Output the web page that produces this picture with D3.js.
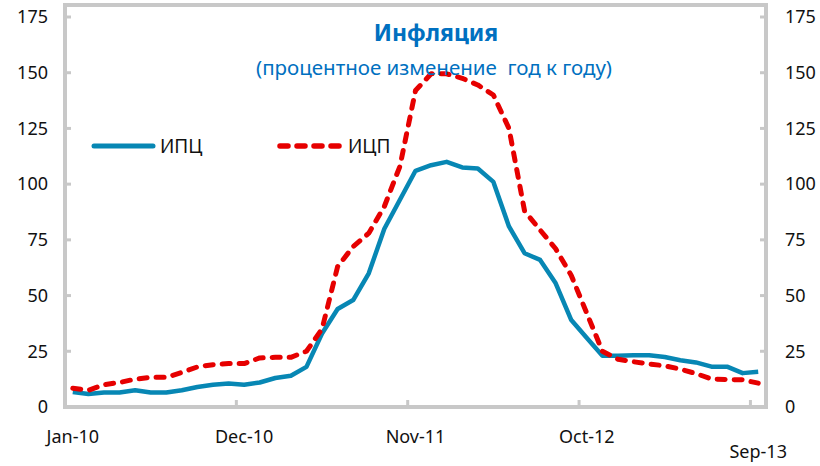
<!DOCTYPE html>
<html>
<head>
<meta charset="utf-8">
<script src="https://cdn.jsdelivr.net/npm/d3@7"></script>
<style>
  body { margin: 0; background: #fff; }
  text { font-family: "Noto Sans", sans-serif; }
</style>
</head>
<body>
<svg id="graf" width="820" height="466"></svg>
<script>
// data - mesicni hodnoty Jan-10 .. Sep-13
var mesice = []
var mesNazvy = ["Jan","Feb","Mar","Apr","May","Jun","Jul","Aug","Sep","Oct","Nov","Dec"]
for (var r = 10; r <= 13; r++) {
  for (var m = 0; m < 12; m++) {
    if (r == 13 && m > 8) break
    mesice.push(mesNazvy[m] + "-" + r)
  }
}
var popisky = ["Jan-10", "Dec-10", "Nov-11", "Oct-12", "Sep-13"]
var ipc = [6.7, 5.8, 6.5, 6.5, 7.5, 6.5, 6.5, 7.5, 9, 10, 10.5, 10, 11, 13, 14, 18,
  33, 44, 48, 60, 80, 93, 106, 108.5, 110, 107.5, 107, 101, 81, 69, 66, 55.5,
  39, 31, 23, 23, 23.2, 23.2, 22.4, 21, 20, 18.1, 18.1, 15.2, 15.8]
var icp = [8.4, 7.5, 10, 11, 12.5, 13.3, 13.3, 15.5, 18, 19, 19.5, 19.5, 22, 22.3, 22.3, 25,
  35, 63, 72, 78, 90, 108, 142, 149.5, 149.5, 147.5, 144.5, 140, 125, 88, 79.4, 71,
  59, 42, 25, 21.4, 20.3, 19.3, 18.5, 17, 15, 12.6, 12.3, 12.2, 10.7]
var osaY = [0, 25, 50, 75, 100, 125, 150, 175]

var svg = d3.select("#graf")
var L = 65, R = 766, T = 5, B = 407

var x = d3.scaleBand().domain(mesice).range([L, R])
var y = d3.scaleLinear().domain([0, 175]).range([B, 17])
var stred = function(d){ return x(d) + x.bandwidth() / 2 }

var seda = "#c8c8c8"

// ramecek
svg.append("rect").attr("x", L).attr("y", T).attr("width", R - L).attr("height", B - T)
  .attr("fill", "none").attr("stroke", seda).attr("stroke-width", 4)

// y znacky dovnitr
osaY.forEach(function(v){
  svg.append("line").attr("x1", L).attr("x2", L + 6).attr("y1", y(v)).attr("y2", y(v))
    .attr("stroke", seda).attr("stroke-width", 3)
  svg.append("line").attr("x1", R).attr("x2", R - 6).attr("y1", y(v)).attr("y2", y(v))
    .attr("stroke", seda).attr("stroke-width", 3)
})

// leva a prava osa - popisky
var levaOsa = d3.axisLeft(y).tickValues(osaY).tickSize(0).tickPadding(17)
var pravaOsa = d3.axisRight(y).tickValues(osaY).tickSize(0).tickPadding(19)
var gL = svg.append("g").attr("transform", "translate(" + L + ",0)").call(levaOsa)
var gR = svg.append("g").attr("transform", "translate(" + R + ",0)").call(pravaOsa)
;[gL, gR].forEach(function(g){
  g.select(".domain").remove()
  g.selectAll("text").attr("font-size", 18).attr("fill", "#111").attr("font-family", "Noto Sans")
})

// x znacky (mezi kategoriemi, kazdych 11)
var hranice = [0, 11, 22, 33, 44]
hranice.forEach(function(k){
  var xx = x(mesice[k])
  svg.append("line").attr("x1", xx).attr("x2", xx).attr("y1", B).attr("y2", B - 7)
    .attr("stroke", seda).attr("stroke-width", 3)
})

// x popisky
svg.selectAll("text.xlab").data(popisky).enter().append("text")
  .attr("class", "xlab")
  .attr("x", function(d){ return stred(d) })
  .attr("y", function(d, i){ return i == 4 ? 458 : 443 })
  .attr("text-anchor", "middle").attr("font-size", 18).attr("fill", "#111")
  .text(function(d){ return d })

// cary
var cara = function(data) {
  return d3.line().x(function(d, i){ return stred(mesice[i]) }).y(function(d){ return y(d) })(data)
}
svg.append("path").attr("d", cara(ipc)).attr("fill", "none")
  .attr("stroke", "#0787b4").attr("stroke-width", 4.5).attr("stroke-linejoin", "round")
svg.append("path").attr("d", cara(icp)).attr("fill", "none")
  .attr("stroke", "#e60000").attr("stroke-width", 5).attr("stroke-dasharray", "8,9")
  .attr("stroke-linecap", "round").attr("stroke-linejoin", "round")

// nadpis
svg.append("text").attr("x", 436).attr("y", 41).attr("text-anchor", "middle")
  .attr("font-size", 23).attr("font-weight", "bold").attr("fill", "#0070c0").text("Инфляция")
svg.append("text").attr("x", 434).attr("y", 75).attr("text-anchor", "middle")
  .attr("font-size", 20.5).attr("fill", "#0070c0").style("white-space", "pre")
  .text("(процентное изменение  год к году)")

// legenda
svg.append("line").attr("x1", 94).attr("x2", 153).attr("y1", 146).attr("y2", 146)
  .attr("stroke", "#0787b4").attr("stroke-width", 5).attr("stroke-linecap", "round")
svg.append("text").attr("x", 160).attr("y", 153).attr("font-size", 19).attr("fill", "#111").text("ИПЦ")
svg.append("line").attr("x1", 280).attr("x2", 341).attr("y1", 146).attr("y2", 146)
  .attr("stroke", "#e60000").attr("stroke-width", 5.5).attr("stroke-dasharray", "8,9")
  .attr("stroke-linecap", "round")
svg.append("text").attr("x", 348).attr("y", 153).attr("font-size", 19).attr("fill", "#111").text("ИЦП")
</script>
</body>
</html>
